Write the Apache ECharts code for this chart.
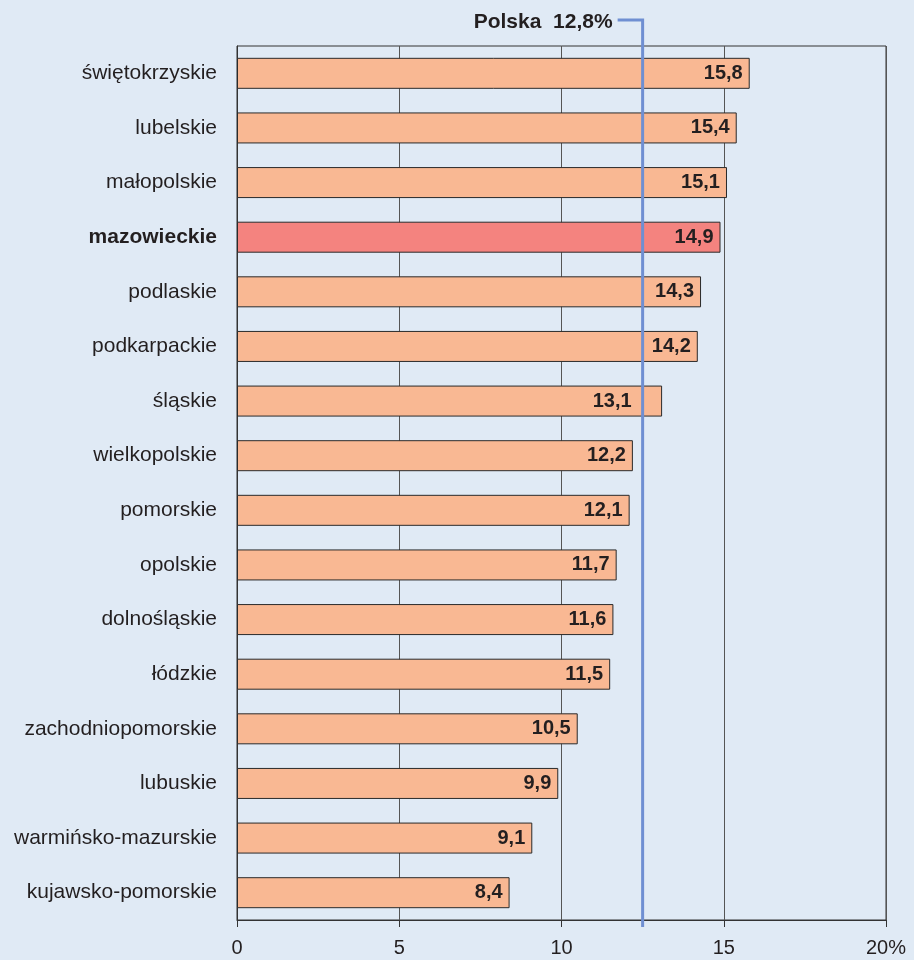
<!DOCTYPE html>
<html>
<head>
<meta charset="utf-8">
<script src="https://cdn.jsdelivr.net/npm/echarts@6/dist/echarts.min.js"></script>
<style>
  html, body { margin: 0; padding: 0; background: #e0eaf5; }
  #chart { width: 914px; height: 960px; }
</style>
</head>
<body>
<div id="chart"></div>
<script>
// województwa, od góry
const regions = ['świętokrzyskie', 'lubelskie', 'małopolskie', 'mazowieckie', 'podlaskie',
    'podkarpackie', 'śląskie', 'wielkopolskie', 'pomorskie', 'opolskie', 'dolnośląskie',
    'łódzkie', 'zachodniopomorskie', 'lubuskie', 'warmińsko-mazurskie', 'kujawsko-pomorskie'];
const values = [15.8, 15.4, 15.1, 14.9, 14.3, 14.2, 13.1, 12.2, 12.1, 11.7, 11.6, 11.5, 10.5, 9.9, 9.1, 8.4];
const highlight = 'mazowieckie';
const xTicks = [0, 5, 10, 15, 20];
const polskaLabel = 'Polska  12,8%';
const polskaPos = 12.5; // where the line sits in the picture

const chart = echarts.init(document.getElementById('chart'));

// y axis is inverted so the first region is on top
const barData = values.map((v, i) => ({
    value: v,
    itemStyle: { color: regions[i] === highlight ? '#f4837f' : '#f9b893' }
}));

chart.setOption({
    backgroundColor: '#e0eaf5',
    textStyle: { fontFamily: 'Liberation Sans, Arial, sans-serif' },
    grid: {
        left: 237, right: 28, top: 46, bottom: 40,
        show: true, borderColor: '#333', borderWidth: 1, backgroundColor: 'transparent'
    },
    xAxis: {
        type: 'value', min: xTicks[0], max: xTicks[xTicks.length - 1], interval: 5,
        axisLine: { show: true, lineStyle: { color: '#333' } },
        axisTick: { show: true, length: 7, lineStyle: { color: '#333' } },
        splitLine: { show: true, lineStyle: { color: '#555', width: 1 } },
        axisLabel: {
            color: '#231f20', fontSize: 20, margin: 18,
            formatter: v => v === 20 ? '20%' : String(v)
        }
    },
    yAxis: {
        type: 'category', data: regions, inverse: true,
        axisLine: { show: true, lineStyle: { color: '#333' } },
        axisTick: { show: false },
        axisLabel: {
            color: '#231f20', fontSize: 21, margin: 20,
            formatter: v => v === highlight ? '{b|' + v + '}' : v,
            rich: { b: { fontWeight: 'bold', fontSize: 21, color: '#231f20' } }
        }
    },
    series: [{
        type: 'bar',
        data: barData,
        barWidth: 31,
        itemStyle: { borderColor: '#2a2a2a', borderWidth: 1 },
        label: {
            show: true, position: 'insideRight', distance: 7,
            color: '#231f20', fontSize: 20, fontWeight: 'bold',
            formatter: p => p.value.toFixed(1).replace('.', ',')
        },
        silent: true
    }],
    animation: false
});

// Polska average line with bracket, placed through the axis scale
const px = chart.convertToPixel({ xAxisIndex: 0 }, polskaPos);

// labels that would sit on the line get pushed left of it
const labelW = 42;
barData.forEach(d => {
    const right = chart.convertToPixel({ xAxisIndex: 0 }, d.value) - 7;
    if (right > px - 11 && right - labelW < px + 4) {
        d.label = { offset: [(px - 11) - right, 0] };
    }
});

chart.setOption({
    series: [{ data: barData }],
    graphic: [
        {
            type: 'polyline',
            shape: { points: [[px - 25, 20], [px, 20], [px, 927]] },
            style: { stroke: '#6f8fd2', lineWidth: 3, fill: null },
            z: 100
        },
        {
            type: 'text',
            x: px - 30, y: 22,
            style: {
                text: polskaLabel, fill: '#231f20',
                font: 'bold 21px Liberation Sans, Arial, sans-serif',
                align: 'right', verticalAlign: 'middle'
            },
            z: 100
        }
    ]
});
</script>
</body>
</html>
